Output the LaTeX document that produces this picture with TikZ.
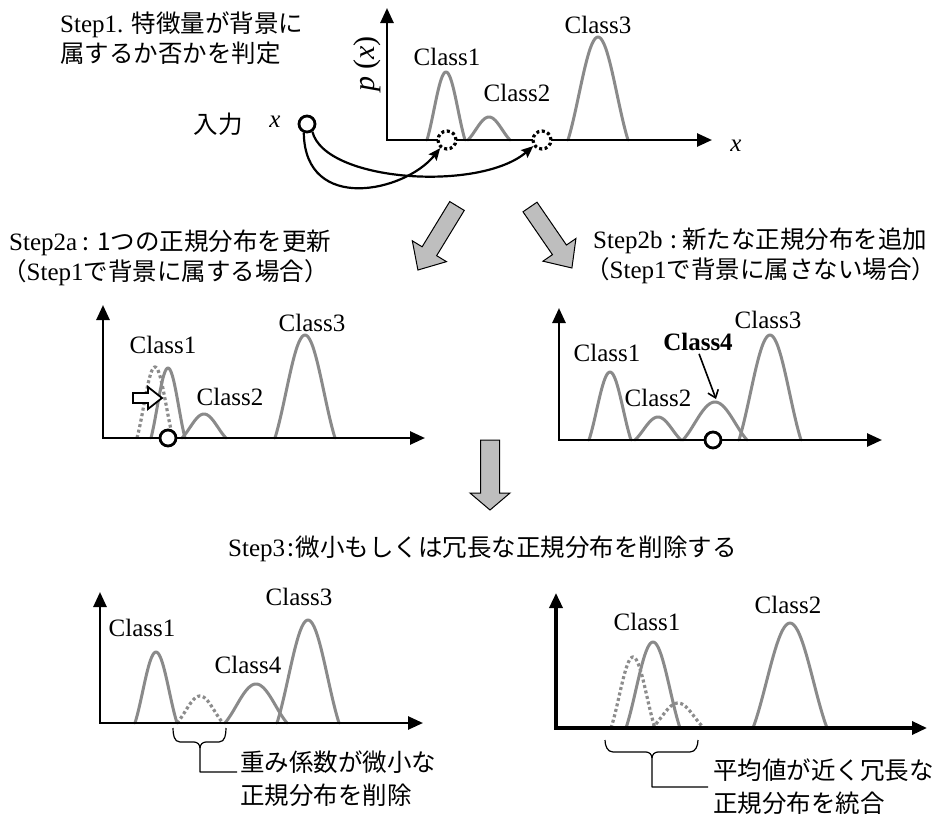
\documentclass[tikz,border=0pt]{standalone}
\usepackage{fontspec}
\setmainfont{Liberation Serif}
\newfontfamily\jpfont{Noto Sans CJK JP}
\newcommand\jp{\jpfont\fontsize{24.5}{30}\selectfont}
\usetikzlibrary{arrows.meta}

\definecolor{bellgray}{RGB}{138,138,138}
\definecolor{dotgray}{RGB}{140,140,140}
\definecolor{arrowgray}{RGB}{190,190,190}

% bell-shaped density: [style]{centre}{half base width}{baseline}{height}
\newcommand\gbell[5][]{%
  \draw[bell,#1] plot[domain=-1:1,samples=41,smooth]
    ({#2+#3*\x},{#4-#5*(0.6*cos(90*\x)+0.2*(1+cos(180*\x)))});}

% wide block arrow: {tail x}{tail y}{angle}{length}{shaft half}{head half}{head length}
\newcommand\blockarrow[7]{%
  \draw[bigarr,shift={(#1,#2)},rotate=#3]
    (0,#5) -- ({#4-#7},#5) -- ({#4-#7},#6) -- (#4,0) -- ({#4-#7},-#6)
    -- ({#4-#7},-#5) -- (0,-#5) -- cycle;}

\begin{document}
\begin{tikzpicture}[x=1pt,y=-1pt,
  txt/.style={font=\fontsize{25}{30}\selectfont,inner sep=0pt},
  jtxt/.style={txt,anchor=west},
  bell/.style={draw=bellgray,line width=3pt,line cap=round,line join=round},
  oldbell/.style={draw=dotgray,line width=3.2pt,line cap=butt,dash pattern=on 3pt off 2.6pt},
  axes/.style={line width=2.6pt,line join=miter,
    {Triangle[length=15pt,width=13pt]}-{Triangle[length=15pt,width=13pt]}},
  conn/.style={line width=2.2pt,-{Stealth[length=12pt,width=10pt,inset=2pt]}},
  pointer/.style={line width=1.6pt,-{Straight Barb[length=7pt,width=11pt]}},
  bigarr/.style={fill=arrowgray,draw=black,line width=1pt,line join=miter},
  ring/.style={circle,draw=black,fill=white,line width=2.8pt,
    minimum size=16pt,inner sep=0pt},
  dring/.style={circle,draw=black,fill=white,line width=3.2pt,
    dash pattern=on 3pt off 2.6pt,minimum size=18pt,inner sep=0pt},
  brace/.style={line width=1.2pt,line join=round}]

\fill[white] (0,0) rectangle (938,814);
\useasboundingbox (0,0) rectangle (938,814);

% ---------- Step 1 ----------
\node[jtxt] (s1a) at (60,25) {Step1. {\jp 特徴量が背景に}};
\node[jtxt] (s1b) at (60,53) {\jp 属するか否かを判定};

\gbell{446}{19}{140}{68}
\gbell{489}{21}{140}{23}
\gbell{598}{30}{140}{103}
\draw[axes] (387,8) -- (387,140) -- (712,140);
\node[txt,rotate=90,font=\fontsize{30}{36}\selectfont] (px) at (367,64) {\textit{p} (\textit{x})};
\node[txt] (xlab) at (736,146) {\textit{x}};
\node[txt] (t1) at (447,57) {Class1};
\node[txt] (t2) at (517,93) {Class2};
\node[txt] (t3) at (598,25) {Class3};

\node[txt] (inlbl) at (218,124) {\jp 入力};
\node[txt] (inx) at (275,122) {\textit{x}};
\node[ring] (in) at (307,124) {};
\node[dring] (d1) at (447,140) {};
\node[dring] (d2) at (542,140) {};
\draw[conn] (in.250) .. controls (305,214) and (405,192) .. (d1.230);
\draw[conn] (in.305) .. controls (325,182) and (480,192) .. (d2.215);

% ---------- branching arrows ----------
\blockarrow{457}{206}{238.6}{75}{8.5}{20}{22}
\blockarrow{530}{207}{-55.5}{74}{8.5}{20}{22}

% ---------- Step 2a ----------
\node[jtxt] (s2a1) at (9,243) {Step2a{\jp\hspace{5pt}:\hspace{8pt}1つの正規分布を更新}};
\node[jtxt] (s2a2) at (2,273) {{\jp （}Step1{\jp で背景に属する場合）}};

\gbell[oldbell]{155}{18}{438}{71}
\gbell{168}{17}{438}{70}
\gbell{204}{22}{438}{24}
\gbell{305}{30}{438}{103}
\draw[axes] (103,305) -- (103,438) -- (425,438);
\node[txt] (a1) at (163,345) {Class1};
\node[txt] (a2) at (230,397) {Class2};
\node[txt] (a3) at (312,323) {Class3};
\draw[fill=white,line width=1.8pt,line join=miter]
  (133,393) -- (148,393) -- (148,387) -- (162,398) -- (148,409)
  -- (148,403) -- (133,403) -- cycle;
\node[ring] (xa) at (168,438) {};

% ---------- Step 2b ----------
\node[jtxt] (s2b1) at (593,241) {Step2b{\jp\hspace{8pt}:\hspace{5pt}新たな正規分布を追加}};
\node[jtxt] (s2b2) at (585,271) {{\jp （}Step1{\jp で背景に属さない場合）}};

\gbell{610}{21}{440}{68}
\gbell{658}{23}{440}{23}
\gbell{715}{32}{440}{38}
\gbell{770}{31}{440}{105}
\draw[axes] (559,308) -- (559,440) -- (882,440);
\node[txt] (b1) at (607,353) {Class1};
\node[txt] (b4) at (698,342) {\textbf{Class4}};
\node[txt] (b2) at (658,398) {Class2};
\node[txt] (b3) at (768,320) {Class3};
\coordinate (b4peak) at (716,399);
\draw[pointer,shorten <=3pt] (b4.south) -- (b4peak);
\node[ring] (xb) at (713,440) {};

% ---------- Step 3 ----------
\blockarrow{490}{440}{-90}{70}{9.5}{20}{17}
\node[jtxt] (s3) at (228,549) {Step3{\jp\hspace{2pt}:\hspace{2pt}微小もしくは冗長な正規分布を削除する}};

% removal of a small component
\gbell{156}{21}{723}{71}
\gbell[oldbell]{200}{23}{723}{27}
\gbell{256}{31}{723}{39}
\gbell{308}{31}{723}{103}
\draw[axes] (100,592) -- (100,723) -- (423,723);
\node[txt] (c1) at (142,628) {Class1};
\node[txt] (c4) at (248,665) {Class4};
\node[txt] (c3) at (299,597) {Class3};
\node[jtxt] (n1a) at (240,762) {\jp 重み係数が微小な};
\node[jtxt] (n1b) at (240,795) {\jp 正規分布を削除};
\coordinate (br1) at (237,772);
\draw[brace] (173,728) to[out=-90,in=180] (180,742) -- (194,742)
  to[out=0,in=90] (200,748) -- (200,772) -- (br1);
\draw[brace] (226,728) to[out=-90,in=0] (219,742) -- (206,742)
  to[out=180,in=90] (200,748);

% merging of redundant components
\gbell[oldbell]{633}{22}{728}{71}
\gbell[oldbell]{678}{26}{728}{25}
\gbell{653}{27}{728}{86}
\gbell{790}{37}{728}{105}
\draw[axes,line width=3.4pt] (556,593) -- (556,728) -- (927,728);
\node[txt] (e1) at (647,622) {Class1};
\node[txt] (e2) at (788,605) {Class2};
\node[jtxt] (n2a) at (713,770) {\jp 平均値が近く冗長な};
\node[jtxt] (n2b) at (713,803) {\jp 正規分布を統合};
\coordinate (br2) at (708,787);
\draw[brace] (605,740) to[out=-90,in=180] (613,752) -- (646,752)
  to[out=0,in=90] (652,758) -- (652,787) -- (br2);
\draw[brace] (698,740) to[out=-90,in=0] (690,752) -- (658,752)
  to[out=180,in=90] (652,758);
\end{tikzpicture}
\end{document}
